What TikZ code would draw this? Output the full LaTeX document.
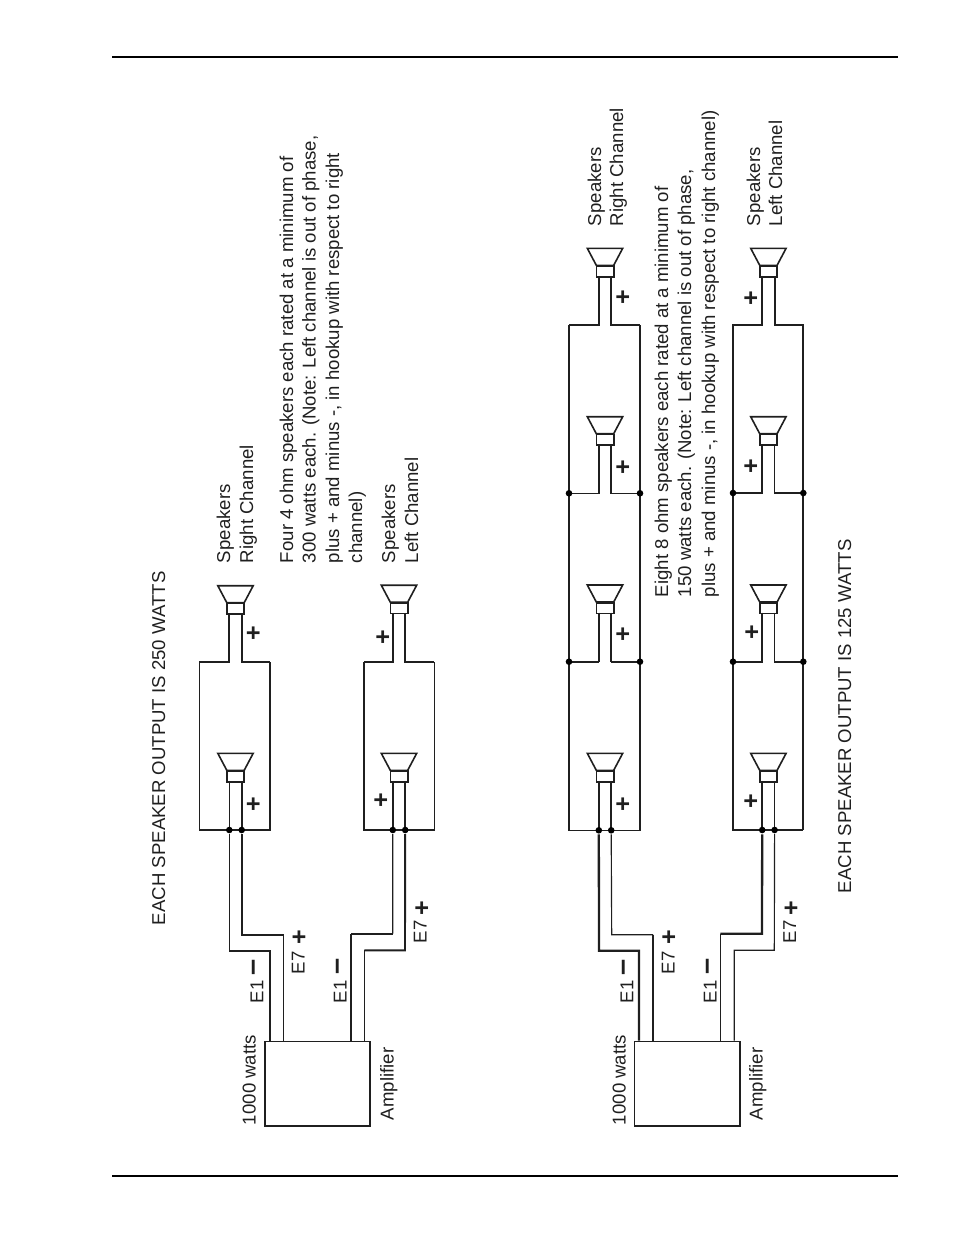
\documentclass[tikz,border=0pt]{standalone}
\usepackage{fontspec}
\setmainfont{Liberation Sans}
\definecolor{ink}{gray}{0.12}
\tikzset{
  x=1pt,y=-1pt,
  thinw/.style={line width=1.15pt,draw=ink},
  medw/.style={line width=1.6pt,draw=ink},
  thickw/.style={line width=2.3pt,draw=ink},
  wire/.style={medw,line cap=butt,line join=miter},
  lbl/.style={rotate=90,anchor=base west,inner sep=0pt,outer sep=0pt,text=ink,font=\fontsize{18.6}{20}\selectfont},
  sign/.style={rotate=90,anchor=center,inner sep=0pt,outer sep=0pt,text=ink,font=\fontsize{25}{25}\selectfont\bfseries},
  dash sign/.style={sign,font=\fontsize{29}{29}\selectfont\bfseries},
  magnet/.style={draw=ink,line width=1.6pt,fill=white,inner sep=0pt,minimum width=17.4pt,minimum height=10.6pt,anchor=north},
  dot/.style={circle,fill=black,inner sep=0pt,minimum size=6.6pt},
  ampbox/.style={draw=ink,line width=1.6pt,inner sep=0pt,anchor=north west,minimum width=105.3pt,minimum height=84.3pt},
}
% name, centre x, top y
\newcommand{\spk}[3]{%
  \draw[medw,line join=miter] (#2-17.7,#3) -- (#2+17.7,#3) -- (#2+8.7,#3+17) -- (#2-8.7,#3+17) -- cycle;
  \node[magnet] (#1) at (#2,#3+17) {};
  \coordinate (#1-l) at (#2-6.2,#3+27.6);
  \coordinate (#1-r) at (#2+6.2,#3+27.6);
}
\begin{document}
\begin{tikzpicture}
\useasboundingbox (0,0) rectangle (954,1235);
% page rules
\coordinate (ruleTa) at (112,57); \coordinate (ruleTb) at (898,57);
\coordinate (ruleBa) at (112,1176); \coordinate (ruleBb) at (898,1176);
\draw[line width=1.8pt,draw=black] (ruleTa) -- (ruleTb);
\draw[line width=1.8pt,draw=black] (ruleBa) -- (ruleBb);

% ---------- four speaker system ----------
\node[ampbox] (ampA) at (264,1040.7) {};
\spk{a1}{235.5}{585.7}
\spk{a2}{235.5}{753.3}
\spk{a3}{399}{585.2}
\spk{a4}{399}{753.3}
% right channel
\coordinate (a1L) at (199.3,662); \coordinate (a1R) at (270,662);
\coordinate (a2L) at (199.3,830); \coordinate (a2R) at (270,830);
\draw[wire,line width=1.9pt] (a1-l) -- (a1-l |- a1L) -- (a1L);
\draw[wire] (a1-r) -- (a1-r |- a1R) -- (a1R);
\draw[wire] (a1L) -- (a2L) -- (a2R) -- (a1R);
\draw[wire] (a2-l) -- (a2-l |- a2L) node[dot] (a2dl) {};
\draw[wire] (a2-r) -- (a2-r |- a2R) node[dot] (a2dr) {};
\coordinate (aw1a) at (229.3,950.7); \coordinate (aw1b) at (270,950.7); \coordinate (aw1c) at (270,1040.7);
\coordinate (aw2a) at (241.7,934.7); \coordinate (aw2b) at (283.3,934.7); \coordinate (aw2c) at (283.3,1040.7);
\draw[wire] (a2dl) -- (aw1a) -- (aw1b) -- (aw1c);
\draw[wire] (a2dr) -- (aw2a) -- (aw2b) -- (aw2c);
% left channel
\coordinate (a3L) at (364,661.7); \coordinate (a3R) at (434.3,661.7);
\coordinate (a4L) at (364,830); \coordinate (a4R) at (434.3,830);
\draw[wire] (a3-l) -- (a3-l |- a3L) -- (a3L);
\draw[wire] (a3-r) -- (a3-r |- a3R) -- (a3R);
\draw[wire] (a3L) -- (a4L) -- (a4R) -- (a3R);
\draw[wire] (a4-l) -- (a4-l |- a4L) node[dot] (a4dl) {};
\draw[wire] (a4-r) -- (a4-r |- a4R) node[dot] (a4dr) {};
\coordinate (aw3a) at (392.7,933.7); \coordinate (aw3b) at (350.7,933.7); \coordinate (aw3c) at (350.7,1040.7);
\coordinate (aw4a) at (405,950.3); \coordinate (aw4b) at (364.3,950.3); \coordinate (aw4c) at (364.3,1040.7);
\draw[wire,thinw] (a4dl) -- (aw3a);
\draw[wire,line width=1.9pt] (aw3a) -- (aw3b);
\draw[wire] (aw3b) -- (aw3c);
\draw[wire,line width=1.9pt] (a4dr) -- (aw4a) -- (aw4b);
\draw[wire] (aw4b) -- (aw4c);

% ---------- eight speaker system ----------
\node[ampbox] (ampB) at (633.7,1040.7) {};
\spk{b1}{605}{248.3}
\spk{b2}{605}{416.7}
\spk{b3}{605}{585}
\spk{b4}{605}{753.3}
\spk{c1}{768.4}{248.3}
\spk{c2}{768.4}{416.7}
\spk{c3}{768.4}{585}
\spk{c4}{768.4}{753.3}
% right channel
\coordinate (bt1) at (569,325); \coordinate (bt2) at (640,325);
\coordinate (bm1) at (569,493.3); \coordinate (bm2) at (640,493.3);
\coordinate (bn1) at (569,661.7); \coordinate (bn2) at (640,661.7);
\coordinate (bb1) at (569,830.3); \coordinate (bb2) at (640,830.3);
\draw[wire] (b1-l) -- (b1-l |- bt1) -- (bt1);
\draw[wire] (b1-r) -- (b1-r |- bt2) -- (bt2);
\draw[wire] (bt1) -- (bb1) -- (bb2) -- (bt2);
\draw[wire] (b2-l) -- (b2-l |- bm1) -- (bm1);
\draw[wire] (b2-r) -- (b2-r |- bm2) -- (bm2);
\draw[wire,line width=1.9pt] (b3-l |- bn1) -- (bn1);
\draw[wire,line width=1.9pt] (b3-r |- bn2) -- (bn2);
\draw[wire] (b3-l) -- (b3-l |- bn1);
\draw[wire] (b3-r) -- (b3-r |- bn2);
\draw[wire] (b4-l) -- (b4-l |- bb1) node[dot] (b4dl) {};
\draw[wire] (b4-r) -- (b4-r |- bb2) node[dot] (b4dr) {};
\foreach \n in {bm1,bm2,bn1,bn2} \node[dot] at (\n) {};
\coordinate (bw1a) at (599,950.7); \coordinate (bw1b) at (639,950.7); \coordinate (bw1c) at (639,1040.7);
\coordinate (bw2a) at (611.7,934.7); \coordinate (bw2b) at (653,934.7); \coordinate (bw2c) at (653,1040.7);
\draw[wire,thickw] (b4dl) -- (bw1a) -- (bw1b) -- (bw1c);
\draw[wire,thinw] (b4dr) -- (bw2a) -- (bw2b);
\draw[wire,thickw] (bw2b) -- (bw2c);
% left channel
\coordinate (ct1) at (733,325); \coordinate (ct2) at (803.3,325);
\coordinate (cm1) at (733,493); \coordinate (cm2) at (803.3,493);
\coordinate (cn1) at (733,661.7); \coordinate (cn2) at (803.3,661.7);
\coordinate (cb1) at (733,830); \coordinate (cb2) at (803.3,830);
\draw[wire,line width=2.1pt] (c1-l) -- (c1-l |- ct1) -- (ct1) -- (cm1);
\draw[wire,line width=2.1pt] (c1-r) -- (c1-r |- ct2) -- (ct2) -- (cb2);
\draw[wire] (cm1) -- (cb1) -- (cb2);
\draw[wire] (c2-l) -- (c2-l |- cm1) -- (cm1);
\draw[wire] (c2-r) -- (c2-r |- cm2) -- (cm2);
\draw[wire] (c3-l) -- (c3-l |- cn1) -- (cn1);
\draw[wire] (c3-r) -- (c3-r |- cn2) -- (cn2);
\draw[wire,line width=1.9pt] (c4-l) -- (c4-l |- cb1) node[dot] (c4dl) {};
\draw[wire] (c4-r) -- (c4-r |- cb2) node[dot] (c4dr) {};
\foreach \n in {cm1,cm2,cn1,cn2} \node[dot] at (\n) {};
\coordinate (cw3a) at (762,933.7); \coordinate (cw3b) at (720.3,933.7); \coordinate (cw3c) at (720.3,1040.7);
\coordinate (cw4a) at (774.3,950.3); \coordinate (cw4b) at (734.3,950.3); \coordinate (cw4c) at (734.3,1040.7);
\draw[wire,thickw] (c4dl) -- (cw3a) -- (cw3b);
\draw[wire,thinw] (cw3b) -- (cw3c);
\draw[wire,thinw] (c4dr) -- (cw4a) -- (cw4b) -- (cw4c);

% ---------- plus and minus ----------
\foreach \px/\py in {254.3/633.3,254.3/804,383.7/636.7,381.7/800,300/937.3,422.7/908.3,
  623.7/297.3,623.7/466.7,751.7/298.3,751.7/466,623.7/633.7,623.7/804,752.7/632,751.7/800.7,669.7/937.3,792/908.3}
  \node[sign] at (\px,\py) {+};
\foreach \px/\py in {257.3/967.7,341/966.7,627.3/967.7,711/966.7}
  \node[dash sign] at (\px,\py) {–};

% ---------- text ----------
\node[lbl] (t1) at (165,925) {EACH SPEAKER OUTPUT IS 250 WATTS};
\node[lbl] (t2) at (230,563) {Speakers};
\node[lbl] (t3) at (253,563) {Right Channel};
\node[lbl] (t4) at (395,563) {Speakers};
\node[lbl] (t5) at (418,563) {Left Channel};
\node[lbl] (t6) at (293,563) {Four 4 ohm speakers each rated at a minimum of};
\node[lbl] (t7) at (315.5,563) {300 watts each.  (Note: Left channel is out of phase,};
\node[lbl] (t8) at (339,563) {plus + and minus -, in hookup with respect to right};
\node[lbl] (t9) at (362,563) {channel)};
\node[lbl] (t10) at (263.3,1003) {E1};
\node[lbl] (t11) at (304.5,974) {E7};
\node[lbl] (t12) at (346.7,1003) {E1};
\node[lbl] (t13) at (426.7,943) {E7};
\node[lbl] (t14) at (255.7,1125) {1000 watts};
\node[lbl] (t15) at (393.5,1120) {Amplifier};

\node[lbl] (u1) at (851,893) {EACH SPEAKER OUTPUT IS 125 WATTS};
\node[lbl] (u2) at (601,226) {Speakers};
\node[lbl] (u3) at (623,226) {Right Channel};
\node[lbl] (u4) at (760,226) {Speakers};
\node[lbl] (u5) at (782,226) {Left Channel};
\node[lbl] (u6) at (668,597) {Eight 8 ohm speakers each rated at a minimum of};
\node[lbl] (u7) at (691,597) {150 watts each.  (Note: Left channel is out of phase,};
\node[lbl] (u8) at (715,597) {plus + and minus -, in hookup with respect to right channel)};
\node[lbl] (u9) at (633.3,1003) {E1};
\node[lbl] (u10) at (674.5,974) {E7};
\node[lbl] (u11) at (716.7,1003) {E1};
\node[lbl] (u12) at (796,943) {E7};
\node[lbl] (u13) at (625.7,1125) {1000 watts};
\node[lbl] (u14) at (762.5,1120) {Amplifier};
\end{tikzpicture}
\end{document}
